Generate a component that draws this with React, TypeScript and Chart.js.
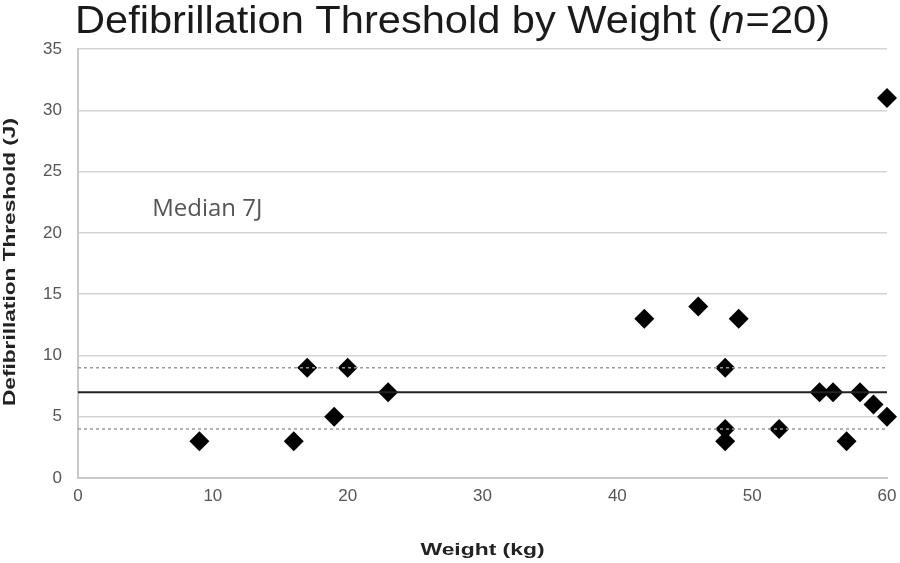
import React, { useEffect, useRef } from "react";
import { Chart, registerables } from "chart.js";

Chart.register(...registerables);

const weights = [9, 16, 17, 19, 20, 23, 42, 46, 48, 48, 48, 49, 52, 55, 56, 57, 58, 59, 60, 60];
const thresholds = [3, 3, 9, 5, 9, 7, 13, 14, 9, 4, 3, 13, 4, 7, 7, 3, 7, 6, 5, 31];
const medianValue = 7;
const q1Value = 4;
const q3Value = 9;
const xRange = [0, 60];
const yRange = [0, 35];
const titleParts = ["Defibrillation Threshold by Weight (", "n", "=20)"];
const xTitle = "Weight (kg)";
const yTitle = "Defibrillation Threshold (J)";
const annotationText = "Median 7J";
const annotationPos = [5.5, 21.4];

const FONT = "'Liberation Sans', Arial, sans-serif";

function stretchedText(ctx: any, text: string, x: number, y: number, targetWidth: number) {
  const w = ctx.measureText(text).width;
  ctx.save();
  ctx.translate(x, y);
  ctx.scale(targetWidth / w, 1);
  ctx.textAlign = "center";
  ctx.fillText(text, 0, 0);
  ctx.restore();
}

const overlayPlugin = {
  id: "overlay",
  afterDraw(chart: any) {
    const ctx = chart.ctx;
    const xs = chart.scales.x;
    const ys = chart.scales.y;
    const area = chart.chartArea;
    ctx.save();
    // title
    ctx.fillStyle = "#1a1a1a";
    ctx.textBaseline = "alphabetic";
    ctx.textAlign = "left";
    const ty = 33;
    const size = 38;
    ctx.font = `${size}px ${FONT}`;
    const w0 = ctx.measureText(titleParts[0]).width;
    ctx.font = `italic ${size}px ${FONT}`;
    const w1 = ctx.measureText(titleParts[1]).width + 1;
    ctx.font = `${size}px ${FONT}`;
    const w2 = ctx.measureText(titleParts[2]).width;
    const sx = 755 / (w0 + w1 + w2);
    ctx.save();
    ctx.translate(75, ty);
    ctx.scale(sx, 1);
    ctx.fillText(titleParts[0], 0, 0);
    ctx.font = `italic ${size}px ${FONT}`;
    ctx.fillText(titleParts[1], w0, 0);
    ctx.font = `${size}px ${FONT}`;
    ctx.fillText(titleParts[2], w0 + w1, 0);
    ctx.restore();
    // annotation
    ctx.font = "24px 'Open Sans', Lato, sans-serif";
    ctx.fillStyle = "#555";
    ctx.fillText(annotationText, xs.getPixelForValue(annotationPos[0]), ys.getPixelForValue(annotationPos[1]));
    // x title
    ctx.font = `bold 17px ${FONT}`;
    ctx.fillStyle = "#222";
    stretchedText(ctx, xTitle, (area.left + area.right) / 2, 555, 124);
    // y title
    ctx.save();
    ctx.translate(10, 262);
    ctx.rotate(-Math.PI / 2);
    ctx.textBaseline = "middle";
    stretchedText(ctx, yTitle, 0, 0, 288);
    ctx.restore();
    ctx.restore();
  },
};

export default function App() {
  const ref = useRef<HTMLCanvasElement>(null);
  useEffect(() => {
    document.body.style.margin = "0";
    const points = weights.map((w, i) => ({ x: w, y: thresholds[i] }));
    const hline = (v: number) => [
      { x: xRange[0], y: v },
      { x: xRange[1], y: v },
    ];
    const chart = new Chart(ref.current as HTMLCanvasElement, {
      type: "scatter",
      data: {
        datasets: [
          {
            type: "line",
            data: hline(q3Value),
            borderColor: "#9a9a9a",
            borderWidth: 1.5,
            borderDash: [3, 3],
            pointRadius: 0,
            fill: false,
          },
          {
            type: "line",
            data: hline(q1Value),
            borderColor: "#9a9a9a",
            borderWidth: 1.5,
            borderDash: [3, 3],
            pointRadius: 0,
            fill: false,
          },
          {
            type: "line",
            data: hline(medianValue),
            borderColor: "#222",
            borderWidth: 2,
            pointRadius: 0,
            fill: false,
          },
          {
            data: points,
            pointStyle: "rectRot",
            pointRadius: 10,
            backgroundColor: "#000",
            borderColor: "#000",
            borderWidth: 0,
            clip: false,
          },
        ] as any,
      },
      options: {
        animation: false,
        responsive: false,
        maintainAspectRatio: false,
        layout: { padding: { top: 49, right: 13, left: 0, bottom: 0 } },
        plugins: { legend: { display: false }, tooltip: { enabled: false } },
        scales: {
          x: {
            type: "linear",
            min: xRange[0],
            max: xRange[1],
            ticks: { stepSize: 10, color: "#555", font: { family: FONT, size: 17 }, padding: 8 },
            grid: { display: false, drawTicks: false },
            border: { display: true, color: "#c8c8c8", width: 2 },
            afterFit(scale: any) {
              scale.height = 85;
              scale.paddingLeft = 0;
              scale.paddingRight = 0;
            },
          },
          y: {
            type: "linear",
            min: yRange[0],
            max: yRange[1],
            ticks: { stepSize: 5, color: "#555", font: { family: FONT, size: 17 }, padding: 16 },
            grid: { color: "#d4d4d4", lineWidth: 1.5, drawTicks: false },
            border: { display: true, color: "#c8c8c8", width: 2 },
            afterFit(scale: any) {
              scale.width = 78;
              scale.paddingTop = 0;
              scale.paddingBottom = 0;
            },
          },
        },
      } as any,
      plugins: [overlayPlugin],
    });
    return () => chart.destroy();
  }, []);
  return (
    <div style={{ width: 900, height: 563, background: "#fff" }}>
      <canvas ref={ref} width={900} height={563} style={{ width: 900, height: 563, display: "block" }} />
    </div>
  );
}
